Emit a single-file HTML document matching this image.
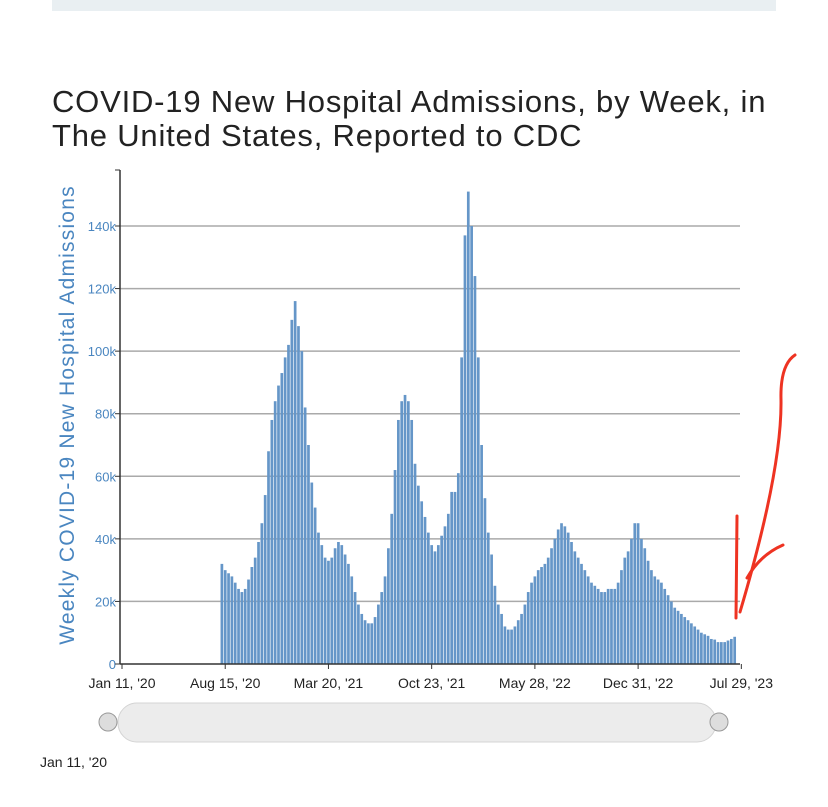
<!DOCTYPE html>
<html><head><meta charset="utf-8"><style>
body{margin:0;background:#fff;width:828px;height:807px;overflow:hidden;font-family:"Liberation Sans",sans-serif}
</style></head><body>
<svg width="828" height="807" style="position:absolute;left:0;top:0">
<rect x="52" y="0" width="724" height="11" fill="#e9eff2"/>
<text x="52" y="112" font-size="31" letter-spacing="0.8" fill="#222">COVID-19 New Hospital Admissions, by Week, in</text>
<text x="52" y="146" font-size="31" letter-spacing="0.8" fill="#222">The United States, Reported to CDC</text>
<text transform="translate(74,415) rotate(-90)" text-anchor="middle" font-size="21" letter-spacing="1.2" fill="#4a86c0">Weekly COVID-19 New Hospital Admissions</text>
<g id="grid"></g><g id="bars"></g><g id="axes"></g>
<rect x="118" y="703" width="598" height="39" rx="19" fill="#ececec" stroke="#d4d4d4"/>
<circle cx="108" cy="722" r="9" fill="#ddd" stroke="#999"/>
<circle cx="719" cy="722" r="9" fill="#ddd" stroke="#999"/>
<text x="40" y="767" font-size="14" fill="#222">Jan 11, '20</text>
<g fill="none" stroke="#ee3322" stroke-width="3" stroke-linecap="round">
<path d="M737 516 L736 618"/>
<path d="M795 355 Q780 365 781 400 Q782 470 740 612"/>
<path d="M783 545 Q760 555 747 578"/>
</g>
</svg>
<script>
const yTicks=[0,20000,40000,60000,80000,100000,120000,140000];
const yTickLabels=["0","20k","40k","60k","80k","100k","120k","140k"];
const xTickWeeks=[0,31,62,93,124,155,186];
const xTickLabels=["Jan 11, '20","Aug 15, '20","Mar 20, '21","Oct 23, '21","May 28, '22","Dec 31, '22","Jul 29, '23"];
const firstWeek=30;
const admissions=[32,30,29,28,26,24,23,24,27,31,34,39,45,54,68,78,84,89,93,98,102,110,116,108,100,82,70,58,50,42,38,34,33,34,37,39,38,35,32,28,23,19,16,14,13,13,15,19,23,28,37,48,62,78,84,86,84,78,64,57,52,47,42,38,36,38,41,44,48,55,55,61,98,137,151,140,124,98,70,53,42,35,25,19,16,12,11,11,12,14,16,19,23,26,28,30,31,32,34,37,40,43,45,44,42,39,36,34,32,30,28,26,25,24,23,23,24,24,24,26,30,34,36,40,45,45,40,37,33,30,28,27,26,24,22,20,18,17,16,15,14,13,12,11,10,9.5,9,8,7.8,7,7,7,7.5,8,8.7].map(v=>v*1000);
const NS="http://www.w3.org/2000/svg";
const X=w=>122+w*(740-122)/185.6;
const Y=v=>664-v*(664-226)/140000;
function mk(t,a,p){const e=document.createElementNS(NS,t);for(const k in a)e.setAttribute(k,a[k]);p.appendChild(e);return e;}
const grid=document.getElementById('grid'),bars=document.getElementById('bars'),axes=document.getElementById('axes');
yTicks.forEach((v,i)=>{
 if(v>0){const g=mk('line',{x1:120,x2:740,y1:Y(v),y2:Y(v),stroke:'#aaa','stroke-width':1.5},grid);
 
 }
 const t=mk('text',{x:116,y:Y(v)+5,'text-anchor':'end','font-size':13,fill:'#4a86c0'},axes);t.textContent=yTickLabels[i];
 
 
 mk('line',{x1:115,x2:120,y1:Y(v),y2:Y(v),stroke:'#333'},axes);
});
admissions.forEach((v,i)=>{
 const x=X(firstWeek+i);
 const r=mk('rect',{x:x-1.35,y:Y(v),width:2.7,height:664-Y(v),fill:'#6596c8'},bars);
 
 
});
mk('line',{x1:120,x2:120,y1:170,y2:664,stroke:'#333','stroke-width':1.5},axes);
mk('line',{x1:115,x2:120,y1:170,y2:170,stroke:'#333'},axes);
mk('line',{x1:120,x2:740,y1:664,y2:664,stroke:'#333','stroke-width':1.5},axes);
xTickWeeks.forEach((w,i)=>{
 mk('line',{x1:X(w),x2:X(w),y1:664,y2:669,stroke:'#333'},axes);
 const t=mk('text',{x:X(w),y:688,'text-anchor':'middle','font-size':14,fill:'#222'},axes);t.textContent=xTickLabels[i];
 
 
});
</script>
</body></html>
